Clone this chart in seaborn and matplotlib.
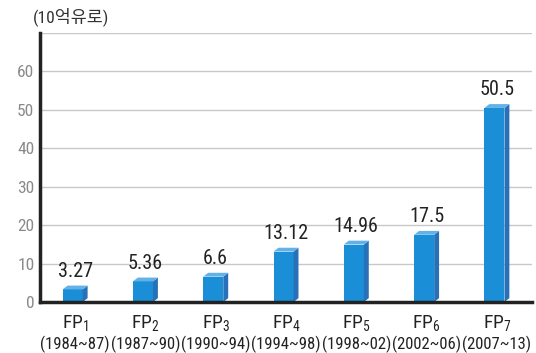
import matplotlib
matplotlib.use("Agg")
import matplotlib.pyplot as plt
from matplotlib.patches import Polygon
import pandas as pd
import seaborn as sns

# data (billion euro)
programmes = ["1", "2", "3", "4", "5", "6", "7"]
periods = ["1984~87", "1987~90", "1990~94", "1994~98", "1998~02", "2002~06", "2007~13"]
budget = [3.27, 5.36, 6.6, 13.12, 14.96, 17.5, 50.5]
value_labels = ["3.27", "5.36", "6.6", "13.12", "14.96", "17.5", "50.5"]

front_color = "#1a8fd8"
side_color = "#2870b8"
top_color = "#62b2e8"

sns.set_style("white")
plt.rcParams["font.family"] = ["Roboto Condensed", "Noto Sans CJK KR", "DejaVu Sans"]
plt.rcParams["mathtext.fontset"] = "custom"
plt.rcParams["mathtext.rm"] = "Roboto Condensed"
plt.rcParams["mathtext.it"] = "Roboto Condensed"

df = pd.DataFrame({"fp": programmes, "budget": budget})

fig = plt.figure(figsize=(5.36, 3.53), dpi=100)
ax = fig.add_axes([0.0746, 0.1445, 0.918, 0.762])

sns.barplot(data=df, x="fp", y="budget", color=front_color, saturation=1,
            width=0.285, ax=ax, zorder=3)

dx = 0.07   # depth in category units
dy = 1.0    # depth in data units
for patch, lab in zip(ax.patches, value_labels):
    patch.set_x(patch.get_x() - dx / 2)
    patch.set_edgecolor("none")
    x0 = patch.get_x()
    w = patch.get_width()
    h = patch.get_height()
    side = Polygon([(x0 + w, 0), (x0 + w + dx, dy), (x0 + w + dx, h + dy), (x0 + w, h)],
                   closed=True, facecolor=side_color, edgecolor="none", zorder=3)
    top = Polygon([(x0, h), (x0 + dx, h + dy), (x0 + w + dx, h + dy), (x0 + w, h)],
                  closed=True, facecolor=top_color, edgecolor="none", zorder=3)
    ax.add_patch(side)
    ax.add_patch(top)
    ax.text(x0 + (w + dx) / 2, h + dy + 1.2, lab, ha="center", va="bottom",
            fontsize=14.5, color="#222222")

ax.set_xlim(-0.5, 6.5)
ax.set_ylim(0, 70)
ax.set_yticks([0, 10, 20, 30, 40, 50, 60, 70])
ax.set_yticklabels(["0", "10", "20", "30", "40", "50", "60", ""], color="#8a8a8a", fontsize=12.5)
for yv in [10, 20, 30, 40, 50, 60, 70]:
    ax.axhline(yv, color="#c8c8c8", lw=1, zorder=1)

# programme name as tick label, period as a second line of text below it
ax.set_xticks(range(len(programmes)))
ax.set_xticklabels([f"FP$_{{{p}}}$" for p in programmes], fontsize=14, color="#222222")
ax.tick_params(axis="x", length=0, pad=8)
for i, per in enumerate(periods):
    ax.text(i, -0.175, f"({per})", transform=ax.get_xaxis_transform(),
            ha="center", va="baseline", fontsize=12, color="#222222")
ax.set_xticks([i + 0.5 for i in range(len(programmes))], minor=True)
ax.tick_params(axis="x", which="minor", length=5, width=2, direction="in", color="#222222")
ax.tick_params(axis="y", length=5, width=2, direction="in", color="#222222", pad=4)
ax.set_xlabel("")
ax.set_ylabel("")

for s in ["top", "right"]:
    ax.spines[s].set_visible(False)
for s in ["left", "bottom"]:
    ax.spines[s].set_linewidth(2.5)
    ax.spines[s].set_color("#222222")
    ax.spines[s].set_zorder(4)

fig.text(33 / 536, 1 - 17 / 353, "(10억유로)", ha="left", va="center",
         fontsize=12.5, color="#333333")

fig.savefig("out.png", dpi=100)
